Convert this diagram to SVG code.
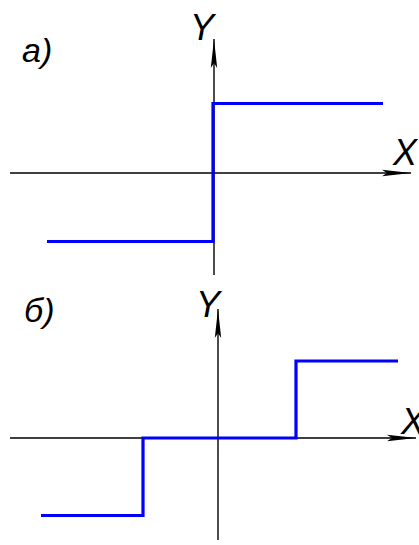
<svg xmlns="http://www.w3.org/2000/svg" width="419" height="545" viewBox="0 0 419 545">
<style>
.ax{stroke:#000;stroke-width:1.4;fill:none}
.cv{stroke:#0000ff;stroke-width:3.2;fill:none;stroke-linejoin:miter}
.lb{font-family:"Liberation Sans",Arial,sans-serif;font-style:italic;fill:#000}
</style>
<defs>
<marker id="ar" markerWidth="30" markerHeight="8" refX="29" refY="4" orient="auto" markerUnits="userSpaceOnUse">
<path d="M0,0.8 L29,4 L0,7.2 L5,4 Z" fill="#000"/>
</marker>
</defs>
<rect width="419" height="545" fill="#fff"/>
<g id="connectors">
<line class="ax" x1="214" y1="275" x2="214" y2="39" marker-end="url(#ar)"/>
<line class="ax" x1="10" y1="173" x2="411" y2="173" marker-end="url(#ar)"/>
<line class="ax" x1="218" y1="540" x2="218" y2="309" marker-end="url(#ar)"/>
<line class="ax" x1="10" y1="438" x2="416" y2="438" marker-end="url(#ar)"/>
</g>
<g id="curve-a">
<polyline class="cv" points="47,241.5 213,241.5 213,103.5 383,103.5"/>
</g>
<g id="curve-b">
<polyline class="cv" points="41,515.5 143,515.5 143,438 296,438 296,361 398,361"/>
</g>
<g id="labels">
<text class="lb" x="190" y="40" font-size="36" font-style="normal">Y</text>
<text class="lb" x="393" y="165" font-size="36">X</text>
<text class="lb" x="22" y="62" font-size="34">а)</text>
<text class="lb" x="196" y="317" font-size="36" font-style="normal">Y</text>
<text class="lb" x="401" y="434" font-size="36">X</text>
<text class="lb" x="24" y="322" font-size="34">б)</text>
</g>
</svg>
